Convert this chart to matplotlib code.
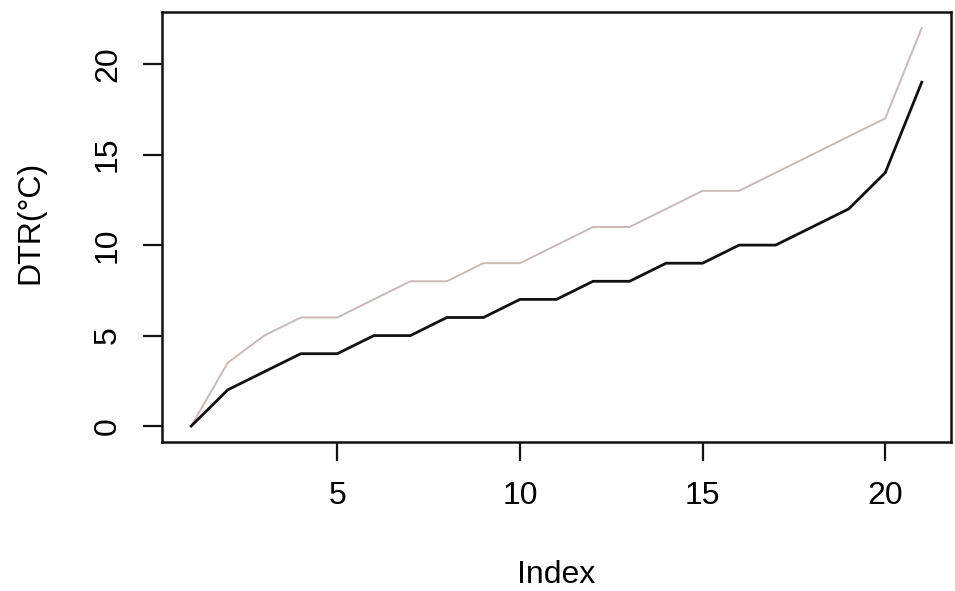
import matplotlib
matplotlib.use("Agg")
import matplotlib.pyplot as plt

index = list(range(1, 22))
dtr_black = [0, 2, 3, 4, 4, 5, 5, 6, 6, 7, 7, 8, 8, 9, 9, 10, 10, 11, 12, 14, 19]
dtr_gray = [0, 3.5, 5, 6, 6, 7, 8, 8, 9, 9, 10, 11, 11, 12, 13, 13, 14, 15, 16, 17, 22]
xticks = [5, 10, 15, 20]
yticks = [0, 5, 10, 15, 20]

plt.rcParams['font.family'] = ['Liberation Sans', 'DejaVu Sans']

fig = plt.figure(figsize=(9.55, 5.91), dpi=100)
ax = fig.add_axes([0.1696, 0.2521, 0.8262, 0.7276])

ax.plot(index, dtr_gray, color='#c9bab6', lw=1.4)
ax.plot(index, dtr_black, color='#111111', lw=2.0)

ax.set_xlim(0.2, 21.8)
ax.set_ylim(-0.88, 22.88)
ax.set_xticks(xticks)
ax.set_yticks(yticks)
ax.set_yticklabels([str(v) for v in yticks], rotation=90, va='center')
ax.tick_params(axis='both', length=14, width=1.6, labelsize=23, color='#111111', pad=14)
for s in ax.spines.values():
    s.set_linewidth(1.8)
    s.set_color('#111111')

ax.set_xlabel('Index', fontsize=23)
ax.set_ylabel('DTR(°C)', fontsize=23)
ax.xaxis.set_label_coords(0.5, -0.275)
ax.yaxis.set_label_coords(-0.148, 0.51)

fig.savefig('out.png', dpi=100)
